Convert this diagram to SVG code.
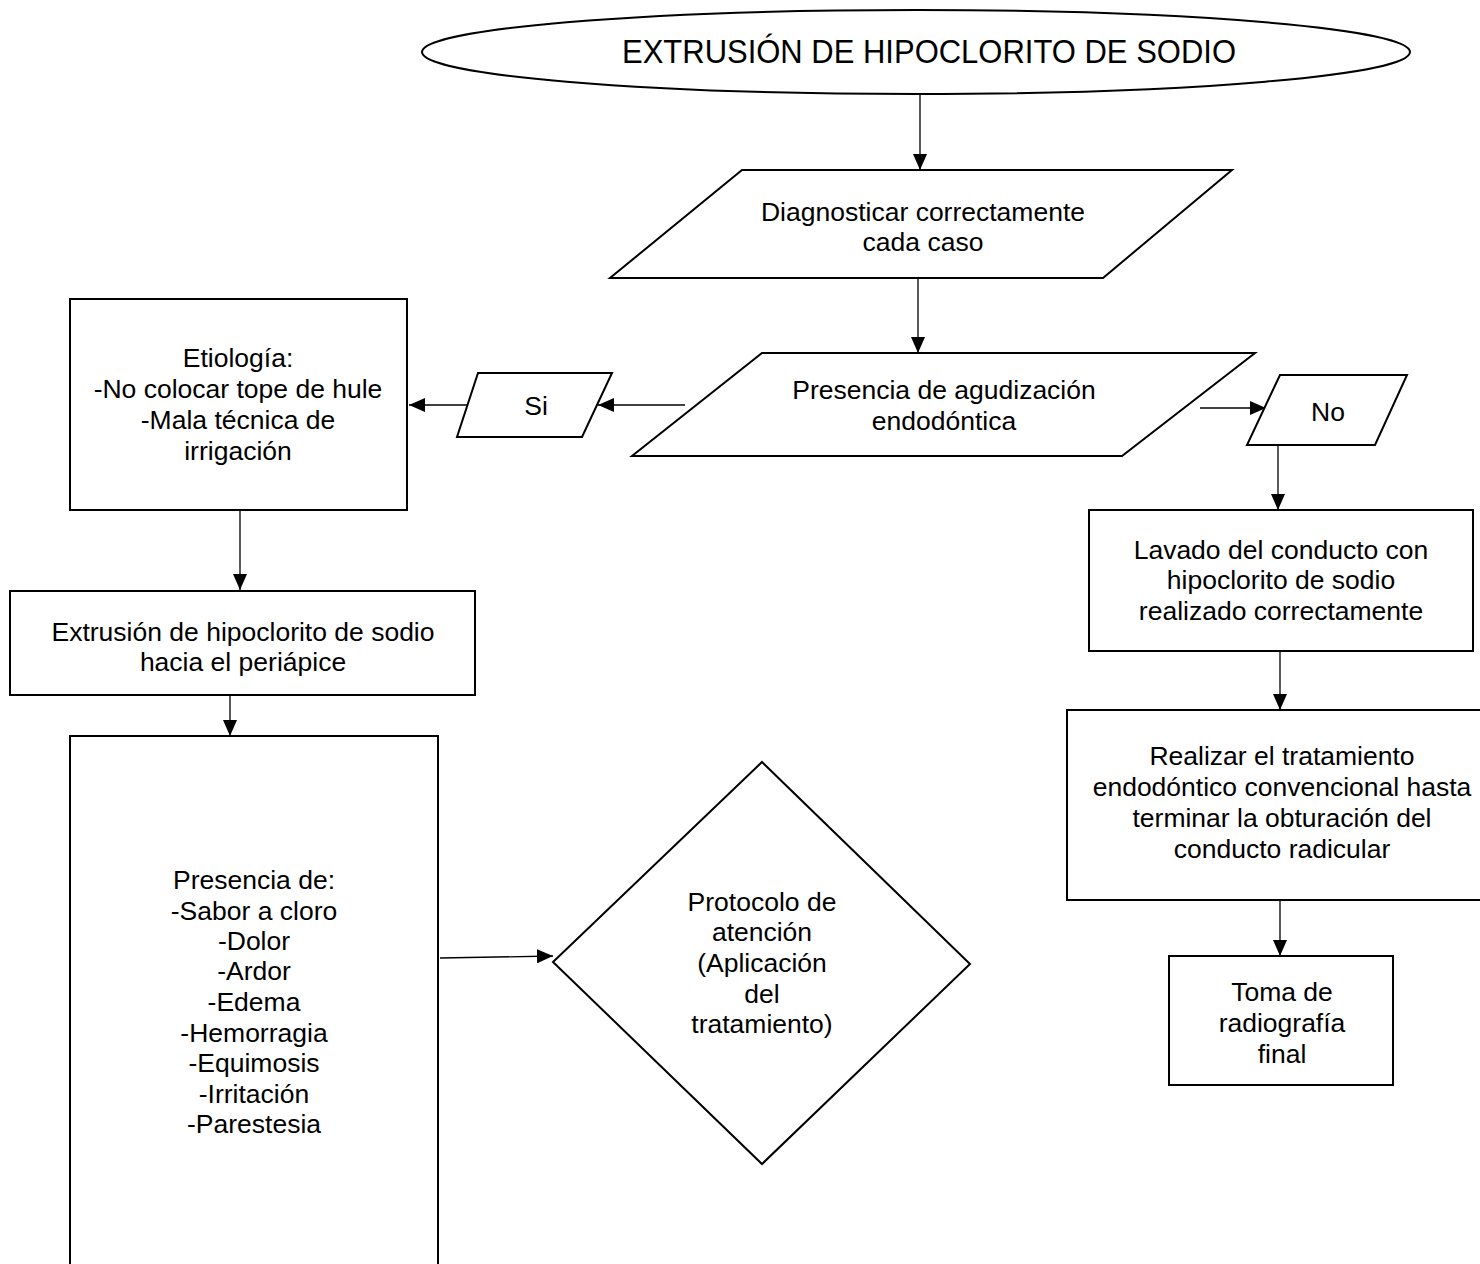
<svg xmlns="http://www.w3.org/2000/svg" width="1480" height="1264" viewBox="0 0 1480 1264">
<style>
.s{fill:#fff;stroke:#000;stroke-width:2}
.c{fill:none;stroke:#000;stroke-width:1.3}
text{font-family:"Liberation Sans",Arial,sans-serif;font-size:26.5px;fill:#000;text-anchor:middle}
</style>
<defs>
<marker id="a" markerUnits="userSpaceOnUse" markerWidth="16" markerHeight="14" refX="16" refY="7" orient="auto">
<path d="M0,0 L16,7 L0,14 Z" fill="#000"/>
</marker>
</defs>
<rect width="1480" height="1264" fill="#fff"/>
<g id="connectors">
<line class="c" x1="920" y1="95" x2="920" y2="170" marker-end="url(#a)"/>
<line class="c" x1="918" y1="278" x2="918" y2="353" marker-end="url(#a)"/>
<line class="c" x1="685" y1="405" x2="598" y2="405" marker-end="url(#a)"/>
<line class="c" x1="470" y1="405" x2="409" y2="405" marker-end="url(#a)"/>
<line class="c" x1="240" y1="511" x2="240" y2="590" marker-end="url(#a)"/>
<line class="c" x1="230" y1="696" x2="230" y2="736" marker-end="url(#a)"/>
<line class="c" x1="440" y1="958" x2="553" y2="956" marker-end="url(#a)"/>
<line class="c" x1="1200" y1="408" x2="1266" y2="408" marker-end="url(#a)"/>
<line class="c" x1="1278" y1="446" x2="1278" y2="510" marker-end="url(#a)"/>
<line class="c" x1="1280" y1="652" x2="1280" y2="710" marker-end="url(#a)"/>
<line class="c" x1="1280" y1="901" x2="1280" y2="956" marker-end="url(#a)"/>
</g>
<g id="title">
<ellipse class="s" cx="916" cy="52" rx="494" ry="42"/>
<text x="929" y="63" style="font-size:33px" textLength="614" lengthAdjust="spacingAndGlyphs">EXTRUSIÓN DE HIPOCLORITO DE SODIO</text>
</g>
<g id="diagnosticar">
<polygon class="s" points="742,170 1232,170 1103,278 610,278"/>
<text x="923" y="221">Diagnosticar correctamente</text>
<text x="923" y="251">cada caso</text>
</g>
<g id="presencia-agudizacion">
<polygon class="s" points="762,353 1255,353 1122,456 632,456"/>
<text x="944" y="399">Presencia de agudización</text>
<text x="944" y="430">endodóntica</text>
</g>
<g id="si">
<polygon class="s" points="478,373 612,373 582,437 457,437"/>
<text x="536" y="415">Si</text>
</g>
<g id="etiologia">
<rect class="s" x="70" y="299" width="337" height="211"/>
<text x="238" y="367">Etiología:</text>
<text x="238" y="398">-No colocar tope de hule</text>
<text x="238" y="429">-Mala técnica de</text>
<text x="238" y="460">irrigación</text>
</g>
<g id="extrusion">
<rect class="s" x="10" y="591" width="465" height="104"/>
<text x="243" y="641">Extrusión de hipoclorito de sodio</text>
<text x="243" y="671">hacia el periápice</text>
</g>
<g id="sintomas">
<rect class="s" x="70" y="736" width="368" height="560"/>
<text x="254" y="889">Presencia de:</text>
<text x="254" y="920">-Sabor a cloro</text>
<text x="254" y="950">-Dolor</text>
<text x="254" y="980">-Ardor</text>
<text x="254" y="1011">-Edema</text>
<text x="254" y="1042">-Hemorragia</text>
<text x="254" y="1072">-Equimosis</text>
<text x="254" y="1103">-Irritación</text>
<text x="254" y="1133">-Parestesia</text>
</g>
<g id="protocolo">
<polygon class="s" points="762,762 970,964 762,1164 553,962"/>
<text x="762" y="911">Protocolo de</text>
<text x="762" y="941">atención</text>
<text x="762" y="972">(Aplicación</text>
<text x="762" y="1003">del</text>
<text x="762" y="1033">tratamiento)</text>
</g>
<g id="no">
<polygon class="s" points="1280,375 1407,375 1375,445 1247,445"/>
<text x="1328" y="421">No</text>
</g>
<g id="lavado">
<rect class="s" x="1089" y="510" width="384" height="141"/>
<text x="1281" y="559">Lavado del conducto con</text>
<text x="1281" y="589">hipoclorito de sodio</text>
<text x="1281" y="620">realizado correctamente</text>
</g>
<g id="realizar">
<rect class="s" x="1067" y="710" width="430" height="190"/>
<text x="1282" y="765">Realizar el tratamiento</text>
<text x="1282" y="796">endodóntico convencional hasta</text>
<text x="1282" y="827">terminar la obturación del</text>
<text x="1282" y="858">conducto radicular</text>
</g>
<g id="toma">
<rect class="s" x="1169" y="956" width="224" height="129"/>
<text x="1282" y="1001">Toma de</text>
<text x="1282" y="1032">radiografía</text>
<text x="1282" y="1063">final</text>
</g>
</svg>
